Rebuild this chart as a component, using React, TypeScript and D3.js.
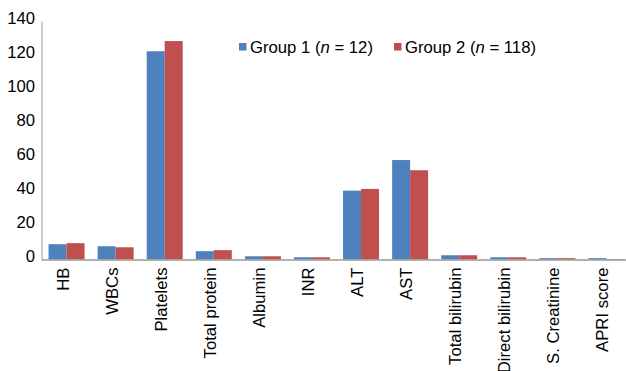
import React from "react";
import * as d3 from "d3";

const categories = ["HB", "WBCs", "Platelets", "Total protein", "Albumin", "INR", "ALT", "AST", "Total bilirubin", "Direct bilirubin", "S. Creatinine", "APRI score"];
const group1 = [9.0, 7.8, 122.5, 4.9, 1.9, 1.3, 40.5, 58.5, 2.5, 1.3, 0.8, 0.8];
const group2 = [9.6, 7.2, 128.5, 5.5, 1.9, 1.3, 41.5, 52.5, 2.5, 1.3, 0.8, 0.3];
const yTicks = [0, 20, 40, 60, 80, 100, 120, 140];
const seriesNames = ["Group 1", "Group 2"];
const seriesN = ["12", "118"];
const colors = ["#4F81BD", "#C0504D"];

export default function App() {
  const W = 626, H = 371;
  const left = 42, right = 631, top = 21.5, bottom = 259.5;
  const x = d3.scaleBand<string>().domain(categories).range([left, right]).paddingInner(0).paddingOuter(0);
  const y = d3.scaleLinear().domain([0, 140]).range([bottom, top]);
  const barW = 18;
  const fs = 16.7;
  const font = "'Liberation Sans', Arial, sans-serif";
  const legendX = [239, 394];

  return (
    <svg width={W} height={H} style={{ position: "absolute", left: 0, top: 0, background: "#fff" }} fontFamily={font}>
      <rect x={0} y={0} width={W} height={H} fill="#fff" />
      {categories.map((c, i) => {
        const cx = (x(c) as number) + x.bandwidth() / 2;
        return (
          <g key={c}>
            <rect x={cx - barW} y={y(group1[i])} width={barW} height={y(0) - y(group1[i])} fill={colors[0]} />
            <rect x={cx} y={y(group2[i])} width={barW} height={y(0) - y(group2[i])} fill={colors[1]} />
            <text
              transform={`translate(${cx + 2},${bottom + 8}) rotate(-90)`}
              textAnchor="end"
              fontSize={fs}
              fill="#000"
            >
              {c}
            </text>
          </g>
        );
      })}
      <line x1={left} x2={left} y1={top} y2={bottom + 1} stroke="#999" strokeWidth={1} />
      <line x1={left} x2={W} y1={bottom + 0.5} y2={bottom + 0.5} stroke="#999" strokeWidth={1.6} />
      {yTicks.map((t) => (
        <text key={t} x={35} y={y(t) - 3} dy="0.35em" textAnchor="end" fontSize={fs} fill="#000">
          {t}
        </text>
      ))}
      {seriesNames.map((s, i) => (
        <g key={s}>
          <rect x={legendX[i]} y={43} width={7.5} height={7.5} fill={colors[i]} />
          <text x={legendX[i] + 11} y={47} dy="0.35em" fontSize={fs} fill="#000">
            {s} (<tspan fontStyle="italic">n</tspan> = {seriesN[i]})
          </text>
        </g>
      ))}
    </svg>
  );
}
